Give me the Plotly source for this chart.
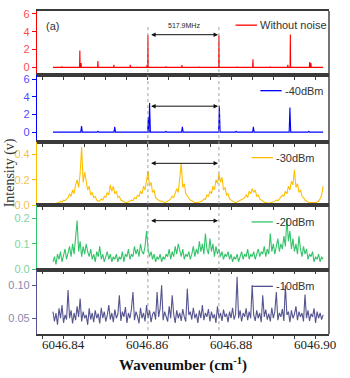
import numpy as np
import plotly.graph_objects as go

# ---------------- data ----------------
x_start, x_end = 6046.8376, 6046.9019

red_pos = [6046.8397, 6046.8440, 6046.8443, 6046.8483, 6046.8521, 6046.8560, 6046.8600,
           6046.8602, 6046.8645, 6046.8683, 6046.8724, 6046.8771, 6046.8814, 6046.8852,
           6046.8893, 6046.8935, 6046.8941, 6046.8987, 6046.8990]
red_h = [0.1, 1.9, 0.5, 0.7, 0.3, 0.3, 0.3, 3.6, 0.1, 0.25, 0.08, 3.6, 0.08, 0.9,
         0.05, 0.3, 3.7, 0.6, 0.5]

blue_pos = [6046.8444, 6046.8483, 6046.8523, 6046.8603, 6046.8606, 6046.8645, 6046.8684,
            6046.8772, 6046.8812, 6046.8853, 6046.8895, 6046.8940, 6046.8985]
blue_h = [0.7, 0.1, 0.6, 1.7, 3.3, 0.1, 0.6, 3.0, 0.1, 0.6, 0.05, 2.8, 0.1]

yellow = [0.01, 0.012, 0.015, 0.018, 0.02, 0.03, 0.025, 0.04, 0.035, 0.05,
          0.06, 0.09, 0.07, 0.12, 0.09, 0.16, 0.2, 0.14, 0.25, 0.46,
          0.18, 0.26, 0.2, 0.12, 0.15, 0.08, 0.1, 0.06, 0.07, 0.04,
          0.03, 0.035, 0.05, 0.04, 0.07, 0.06, 0.1, 0.08, 0.16, 0.11,
          0.15, 0.09, 0.11, 0.06, 0.07, 0.04, 0.035, 0.025, 0.02, 0.02,
          0.025, 0.03, 0.04, 0.035, 0.06, 0.05, 0.08, 0.07, 0.11, 0.09,
          0.15, 0.12, 0.2, 0.27, 0.15, 0.18, 0.1, 0.12, 0.06, 0.05,
          0.04, 0.03, 0.035, 0.025, 0.02, 0.025, 0.03, 0.04, 0.05, 0.07,
          0.06, 0.1, 0.13, 0.1, 0.2, 0.33, 0.14, 0.17, 0.09, 0.07,
          0.06, 0.04, 0.035, 0.025, 0.02, 0.02, 0.02, 0.025, 0.03, 0.035,
          0.05, 0.045, 0.08, 0.07, 0.11, 0.09, 0.15, 0.12, 0.2, 0.17,
          0.25, 0.18, 0.22, 0.12, 0.14, 0.08, 0.09, 0.05, 0.04, 0.03,
          0.025, 0.02, 0.025, 0.03, 0.035, 0.04, 0.05, 0.06, 0.08, 0.06,
          0.11, 0.09, 0.13, 0.1, 0.12, 0.07, 0.08, 0.05, 0.04, 0.03,
          0.025, 0.02, 0.015, 0.015, 0.02, 0.02, 0.025, 0.03, 0.04, 0.035,
          0.05, 0.06, 0.08, 0.07, 0.11, 0.09, 0.15, 0.12, 0.19, 0.16,
          0.28, 0.14, 0.17, 0.1, 0.12, 0.07, 0.06, 0.04, 0.03, 0.025,
          0.02, 0.02, 0.015, 0.015, 0.02, 0.025, 0.03, 0.05, 0.08, 0.15]

green = [0.03, 0.05, 0.02, 0.06, 0.04, 0.07, 0.03, 0.05, 0.08, 0.04, 0.06,
         0.09, 0.05, 0.1, 0.06, 0.12, 0.19, 0.07, 0.11, 0.05, 0.09, 0.06, 0.1, 0.07, 0.05, 0.08,
         0.04, 0.06, 0.03, 0.07, 0.05, 0.09, 0.04, 0.06, 0.03, 0.05, 0.07, 0.04, 0.06, 0.03, 0.05,
         0.04, 0.06, 0.03, 0.05, 0.04, 0.07, 0.03, 0.06, 0.05, 0.08, 0.04, 0.06, 0.05, 0.09, 0.06,
         0.08, 0.05, 0.1, 0.07, 0.06, 0.09, 0.15, 0.08, 0.05, 0.07, 0.04, 0.06, 0.03, 0.05, 0.04,
         0.06, 0.03, 0.05, 0.04, 0.06, 0.05, 0.08, 0.04, 0.07, 0.05, 0.09, 0.06, 0.1, 0.07, 0.05,
         0.08, 0.04, 0.06, 0.05, 0.07, 0.04, 0.06, 0.09, 0.05, 0.08, 0.06, 0.11, 0.07, 0.1, 0.06,
         0.14, 0.08, 0.06, 0.12, 0.07, 0.1, 0.05, 0.09, 0.06, 0.08, 0.05, 0.07, 0.04, 0.06, 0.05,
         0.07, 0.04, 0.06, 0.03, 0.05, 0.04, 0.06, 0.03, 0.05, 0.07, 0.04, 0.06, 0.05, 0.08, 0.04,
         0.06, 0.05, 0.07, 0.04, 0.06, 0.08, 0.05, 0.07, 0.06, 0.09, 0.05, 0.08, 0.06, 0.14, 0.07,
         0.1, 0.06, 0.09, 0.12, 0.07, 0.1, 0.08, 0.13, 0.09, 0.2, 0.11, 0.15, 0.08, 0.12, 0.07,
         0.1, 0.06, 0.13, 0.08, 0.05, 0.09, 0.06, 0.08, 0.04, 0.06, 0.05, 0.07, 0.03, 0.05, 0.04,
         0.06, 0.03, 0.05, 0.04]

purple = [0.06, 0.045, 0.058, 0.04, 0.065, 0.05, 0.07, 0.043, 0.055, 0.048,
          0.093, 0.05, 0.062, 0.042, 0.058, 0.047, 0.068, 0.052, 0.08, 0.045,
          0.06, 0.05, 0.055, 0.04, 0.065, 0.048, 0.058, 0.044, 0.062, 0.05,
          0.057, 0.042, 0.066, 0.05, 0.06, 0.045, 0.055, 0.07, 0.048, 0.058,
          0.044, 0.063, 0.05, 0.056, 0.085, 0.046, 0.06, 0.052, 0.067, 0.043,
          0.058, 0.05, 0.064, 0.09, 0.047, 0.06, 0.053, 0.042, 0.066, 0.05,
          0.058, 0.045, 0.07, 0.05, 0.062, 0.044, 0.056, 0.06, 0.048, 0.09,
          0.052, 0.065, 0.1, 0.047, 0.06, 0.054, 0.045, 0.068, 0.05, 0.085,
          0.056, 0.043, 0.062, 0.05, 0.058, 0.046, 0.064, 0.052, 0.045, 0.095,
          0.055, 0.06, 0.048, 0.066, 0.05, 0.057, 0.043, 0.062, 0.05, 0.07,
          0.047, 0.058, 0.052, 0.064, 0.045, 0.06, 0.05, 0.056, 0.043, 0.068,
          0.05, 0.058, 0.046, 0.063, 0.052, 0.057, 0.044, 0.06, 0.05, 0.066,
          0.048, 0.056, 0.113, 0.05, 0.062, 0.045, 0.058, 0.052, 0.065, 0.047,
          0.06, 0.05, 0.1, 0.055, 0.046, 0.062, 0.05, 0.058, 0.044, 0.085,
          0.052, 0.063, 0.048, 0.057, 0.045, 0.066, 0.05, 0.06, 0.09, 0.047,
          0.058, 0.052, 0.064, 0.046, 0.1, 0.055, 0.06, 0.044, 0.062, 0.05,
          0.056, 0.068, 0.047, 0.06, 0.052, 0.058, 0.045, 0.086, 0.05, 0.062,
          0.046, 0.057, 0.052, 0.065, 0.043, 0.06, 0.05, 0.058, 0.048, 0.055]

labels = ["Without noise", "-40dBm", "-30dBm", "-20dBm", "-10dBm"]
line_pair = [6046.8602, 6046.8771]

# ---------------- build traces ----------------
def spikes(pos, h, d):
    xs, ys = [x_start], [0.0]
    for p, v in zip(pos, h):
        xs += [p - d, p, p + d]
        ys += [0.0, v, 0.0]
    xs.append(x_end)
    ys.append(0.0)
    return xs, ys

rx, ry = spikes(red_pos, red_h, 0.00007)
bx, by = spikes(blue_pos, blue_h, 0.00018)
grid = np.linspace(x_start, x_end, len(yellow))

colors = ["#ff0000", "#0000ff", "#ffbf00", "#33c46a", "#55558f"]
tickcol = ["#ff4d4d", "#4d4dff", "#f2c24e", "#7fd3a0", "#8a8aae"]
series = [(rx, ry), (bx, by), (grid, yellow), (grid, green), (grid, purple)]

fig = go.Figure()
for k, (xs, ys) in enumerate(series):
    fig.add_trace(go.Scatter(x=xs, y=ys, mode="lines",
                             line=dict(color=colors[k], width=1.1),
                             xaxis="x" if k == 0 else f"x{k+1}",
                             yaxis="y" if k == 0 else f"y{k+1}",
                             showlegend=False, hoverinfo="skip"))

# panel layout (top to bottom)
bounds = [(0.8006, 1.0), (0.5951, 0.8006), (0.3988, 0.5951), (0.1994, 0.3988), (0.0, 0.1994)]
yranges = [[-0.9, 6.33], [-1.1, 6.45], [0.0, 0.5], [0.0, 0.25], [0.026, 0.124]]
dticks = [2, 2, 0.2, 0.1, 0.05]
tfmt = ["d", "d", ".1f", ".1f", ".2f"]
xr = [6046.8338, 6046.9033]

lay = {}
for k in range(5):
    xa = "xaxis" if k == 0 else f"xaxis{k+1}"
    ya = "yaxis" if k == 0 else f"yaxis{k+1}"
    yid = "y" if k == 0 else f"y{k+1}"
    lay[xa] = dict(range=xr, anchor=yid, domain=[0, 1],
                   showline=True, linecolor="#3a3a3a", linewidth=1.6, mirror=True,
                   ticks="outside", ticklen=3, tickcolor="#3a3a3a", tickwidth=1,
                   dtick=0.02, tick0=6046.84,
                   minor=dict(dtick=0.005, ticks="outside", ticklen=3, tickcolor="#3a3a3a"),
                   showgrid=False, zeroline=False,
                   showticklabels=(k == 4),
                   tickformat=".2f", ticklabelstandoff=-5,
                   tickfont=dict(family="Liberation Serif", size=13, color="#222"))
    if k > 0:
        lay[xa]["matches"] = "x"
    lay[ya] = dict(domain=list(bounds[k]), range=yranges[k], anchor="x" if k == 0 else f"x{k+1}",
                   showline=True, linecolor=colors[k], linewidth=1.2,
                   ticks="outside", ticklen=4, tickcolor=colors[k],
                   dtick=dticks[k], tickformat=tfmt[k],
                   tickfont=dict(family="Liberation Sans", size=11, color=tickcol[k]),
                   showgrid=False, zeroline=False)
    if k == 2:
        lay[ya]["tick0"] = 0
    if k == 4:
        lay[ya]["tick0"] = 0.05

fig.update_layout(**lay)

# legends (line sample + text) per panel
leg_y = [0.78, 0.77, 0.75, 0.74, 0.74]
shapes = []
annotations = []
for k in range(5):
    xd = "x domain" if k == 0 else f"x{k+1} domain"
    yd = "y domain" if k == 0 else f"y{k+1} domain"
    x0 = 0.68 if k == 0 else (0.765 if k == 1 else 0.735)
    shapes.append(dict(type="line", xref=xd, yref=yd, x0=x0, x1=x0 + 0.073,
                       y0=leg_y[k], y1=leg_y[k], line=dict(color=colors[k], width=1.3)))
    annotations.append(dict(xref=xd, yref=yd, x=x0 + 0.078, y=leg_y[k], text=labels[k],
                            showarrow=False, xanchor="left", yanchor="middle",
                            font=dict(family="Liberation Sans", size=11, color="#333")))

# right border
shapes.append(dict(type="line", xref="paper", yref="paper", x0=1, x1=1, y0=0, y1=1,
                   line=dict(color="#3a3a3a", width=1.4)))
# dotted vertical guide lines
for xv in line_pair:
    shapes.append(dict(type="line", xref="x", yref="paper", x0=xv, x1=xv, y0=0.012, y1=0.955,
                       line=dict(color="#a0a0a0", width=1, dash="dot")))
fig.update_layout(shapes=shapes)

# double arrows
arrow_y = [3.67, 2.95, 0.33, 0.19]
for k in range(4):
    xa = "x" if k == 0 else f"x{k+1}"
    ya = "y" if k == 0 else f"y{k+1}"
    annotations.append(dict(x=6046.8769, y=arrow_y[k], ax=6046.8606, ay=arrow_y[k],
                            xref=xa, yref=ya, axref=xa, ayref=ya, text="",
                            showarrow=True, arrowhead=2, arrowside="end+start",
                            arrowsize=0.9, arrowwidth=1, arrowcolor="#111"))

annotations += [
    dict(xref="x", yref="y", x=6046.8687, y=4.75, text="517.9MHz", showarrow=False,
         yanchor="middle", font=dict(family="Liberation Sans", size=7, color="#222")),
    dict(xref="x domain", yref="y domain", x=0.025, y=0.77, text="(a)", showarrow=False,
         xanchor="left", yanchor="middle",
         font=dict(family="Liberation Sans", size=11, color="#333")),
    dict(xref="paper", yref="paper", x=-0.093, y=0.50, text="Intensity (v)", textangle=-90,
         showarrow=False, xanchor="center", yanchor="middle",
         font=dict(family="Liberation Serif", size=14, color="#333")),
    dict(xref="paper", yref="paper", x=0.5, y=-0.06, text="<b>Wavenumber (cm<sup>-1</sup>)</b>",
         showarrow=False, xanchor="center", yanchor="top",
         font=dict(family="Liberation Serif", size=15, color="#111")),
]
fig.update_layout(annotations=annotations)

fig.update_layout(width=350, height=378, margin=dict(l=37, r=21, t=8, b=44),
                  paper_bgcolor="white", plot_bgcolor="white", showlegend=False)

fig.write_html("out.html")
